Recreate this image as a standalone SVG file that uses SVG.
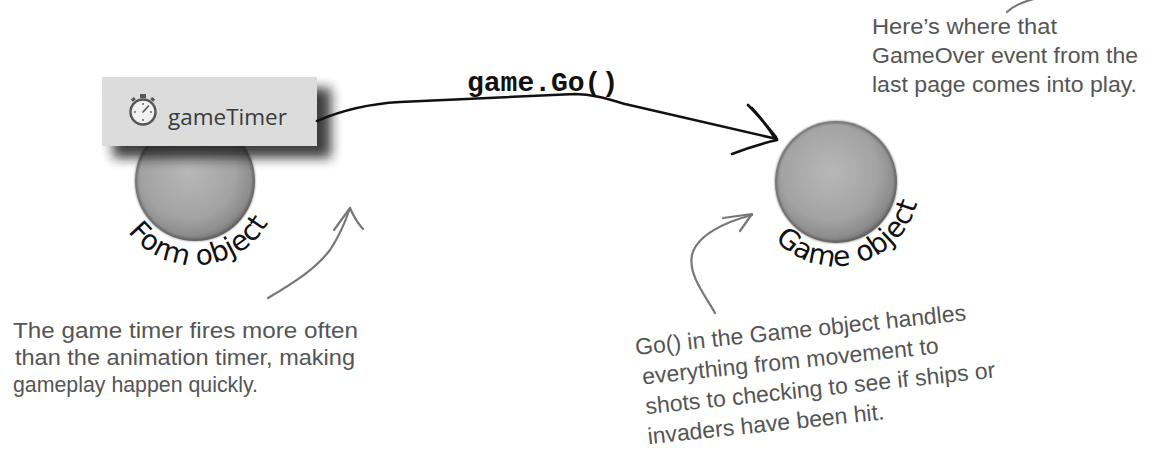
<svg xmlns="http://www.w3.org/2000/svg" width="1150" height="454" viewBox="0 0 1150 454">
  <style>
    .note { font-family: "Liberation Sans", Arial, sans-serif; font-size: 22px; fill: #555; }
    .label { font-family: "DejaVu Sans", "Liberation Sans", sans-serif; font-size: 28px; fill: #111; }
    .call { font-family: "Liberation Mono", "Courier New", monospace; font-weight: bold; font-size: 28px; fill: #111; }
    .ink { fill: none; stroke: #111; stroke-width: 2.6; stroke-linecap: round; stroke-linejoin: round; }
    .pencil { fill: none; stroke: #777; stroke-width: 2.2; stroke-linecap: round; stroke-linejoin: round; }
    .ball { fill: url(#ballFill); }
    .rim { fill: none; stroke: #505050; stroke-width: 2; opacity: 0.75; filter: url(#soft); }
  </style>
  <defs>
    <radialGradient id="ballFill" cx="0.45" cy="0.42" r="0.6">
      <stop offset="0" stop-color="#b8b8b8"/>
      <stop offset="0.65" stop-color="#a3a3a3"/>
      <stop offset="0.88" stop-color="#8d8d8d"/>
      <stop offset="1" stop-color="#6e6e6e"/>
    </radialGradient>
    <filter id="soft" x="-10%" y="-10%" width="120%" height="120%">
      <feGaussianBlur stdDeviation="0.9"/>
    </filter>
    <filter id="shadowBlur" x="-30%" y="-40%" width="160%" height="180%">
      <feGaussianBlur stdDeviation="6"/>
    </filter>
    <!-- baselines for the curved object labels -->
    <path id="formArc" d="M110,180 A85,85 0 0 0 280,180"/>
    <path id="gameArc" d="M752,182 A84,84 0 0 0 920,182"/>
  </defs>

  <rect width="1150" height="454" fill="#fff"/>

  <!-- Form object with its timer component -->
  <g id="node-form">
    <circle class="ball" cx="195" cy="181" r="60"/>
    <circle class="rim" cx="195" cy="181" r="59"/>
    <rect x="113" y="88" width="218" height="70" fill="#1e1e1e" opacity="0.85" filter="url(#shadowBlur)"/>
    <rect x="102" y="77" width="215" height="69" fill="#dcdcdc"/>
    <!-- stopwatch icon -->
    <g id="stopwatch">
      <rect x="140" y="94" width="6" height="4" fill="#555"/>
      <rect x="131" y="98" width="4" height="3" fill="#555" transform="rotate(-40 133 99)"/>
      <rect x="151" y="98" width="4" height="3" fill="#555" transform="rotate(40 153 99)"/>
      <circle cx="143" cy="112" r="12.5" fill="#f2f2f2" stroke="#555" stroke-width="2.4"/>
      <circle cx="143" cy="104" r="0.9" fill="#555"/>
      <circle cx="151" cy="112" r="0.9" fill="#555"/>
      <circle cx="143" cy="120" r="0.9" fill="#555"/>
      <circle cx="135" cy="112" r="0.9" fill="#555"/>
      <line x1="143" y1="112" x2="148.5" y2="106" stroke="#555" stroke-width="1.6" stroke-linecap="round"/>
    </g>
    <text x="168" y="125" font-family="'Open Sans', 'Noto Sans', sans-serif" font-size="22.5" fill="#3a3a3a">gameTimer</text>
    <text class="label" font-size="29"><textPath href="#formArc" startOffset="52%" text-anchor="middle">Form object</textPath></text>
  </g>

  <!-- Game object -->
  <g id="node-game">
    <circle class="ball" cx="836" cy="182" r="61"/>
    <circle class="rim" cx="836" cy="182" r="60"/>
    <text class="label"><textPath href="#gameArc" startOffset="58%" text-anchor="middle">Game object</textPath></text>
  </g>

  <!-- connectors -->
  <g id="connectors">
    <g id="edge-go">
      <path class="ink" d="M317,121 C340,111 365,104 400,102 L575,94 C592,94 605,98 625,104 L777,139"/>
      <path class="ink" d="M748,105 C758,115 768,127 776,137"/>
      <path class="ink" stroke-width="1.8" d="M752,108 C762,119 770,130 776,140"/>
      <path class="ink" d="M777,140 Q755,145 732,154"/>
      <text class="call" x="467" y="91">game.Go()</text>
    </g>
    <g id="pointer-form">
      <path class="pencil" d="M268,298 C290,285 315,270 330,250 Q342,232 350,208"/>
      <path class="pencil" d="M334,230 L350,208 Q355,220 363,229"/>
    </g>
    <g id="pointer-game">
      <path class="pencil" d="M715,313 C705,295 688,275 692,255 C697,235 725,222 752,215"/>
      <path class="pencil" d="M723,218 L752,214 L740,231"/>
    </g>
    <g id="pointer-gameover">
      <path class="pencil" d="M1007,12 Q1015,4 1034,-1"/>
    </g>
  </g>

  <!-- notes -->
  <g id="note-gameover" class="note">
    <text x="872" y="34" textLength="185" lengthAdjust="spacingAndGlyphs">Here’s where that</text>
    <text x="872" y="63" textLength="266" lengthAdjust="spacingAndGlyphs">GameOver event from the</text>
    <text x="872" y="92" textLength="265" lengthAdjust="spacingAndGlyphs">last page comes into play.</text>
  </g>
  <g id="note-timer" class="note">
    <text x="13" y="338" textLength="345" lengthAdjust="spacingAndGlyphs">The game timer fires more often</text>
    <text x="15" y="365" textLength="340" lengthAdjust="spacingAndGlyphs">than the animation timer, making</text>
    <text x="13" y="392" textLength="245" lengthAdjust="spacingAndGlyphs">gameplay happen quickly.</text>
  </g>
  <g id="note-go" class="note" transform="translate(636,355) rotate(-6)">
    <text x="0" y="0" style="font-size:23px">Go() in the Game object handles</text>
    <text x="4" y="30" style="font-size:23px">everything from movement to</text>
    <text x="4" y="60" style="font-size:23px">shots to checking to see if ships or</text>
    <text x="3" y="90" style="font-size:23px">invaders have been hit.</text>
  </g>
</svg>
